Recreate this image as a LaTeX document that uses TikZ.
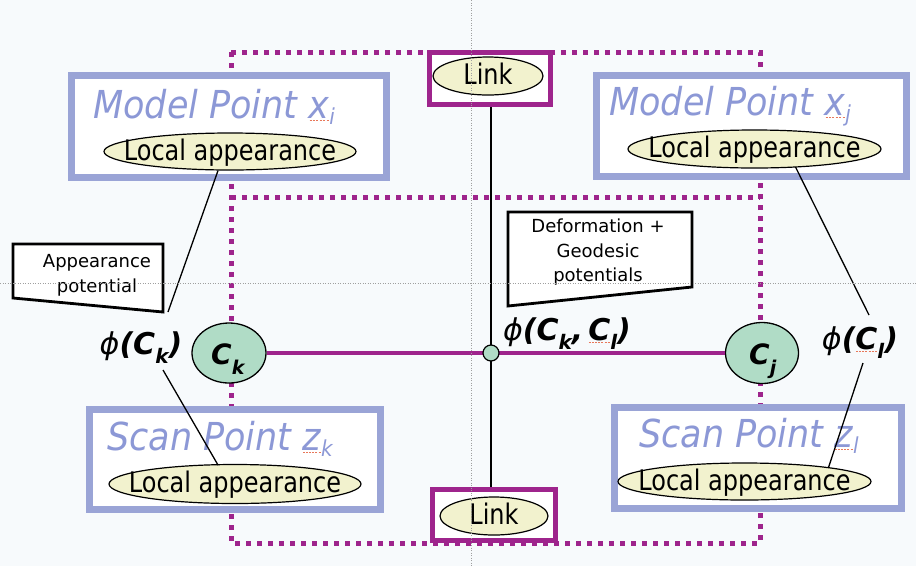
\documentclass[tikz,border=0pt]{standalone}
\usepackage{fontspec}
\setmainfont{DejaVu Sans}[ItalicFont={DejaVu Sans Oblique},BoldFont={DejaVu Sans Bold},BoldItalicFont={DejaVu Sans Bold Oblique}]
\usetikzlibrary{calc,shapes.geometric}

\definecolor{bgc}{RGB}{247,250,252}
\definecolor{boxblue}{RGB}{154,164,214}
\definecolor{titleblue}{RGB}{140,152,214}
\definecolor{magline}{RGB}{158,36,140}
\definecolor{apfill}{RGB}{242,242,206}
\definecolor{mint}{RGB}{176,220,198}
\definecolor{squigred}{RGB}{232,120,90}

% lowered small index: size, drop, text
\newcommand\subtxt[3]{\raisebox{-#2pt}{\fontsize{#1}{#1}\selectfont #3}}
% dashed reddish underline under a glyph
\newlength\sqw
\newcommand\squig[1]{\settowidth\sqw{#1}\rlap{\hbox to\sqw{\color{squigred}\xleaders\hbox to 3pt{\hss\vrule height -2pt depth 3pt width 2pt\hss}\hfill}}#1}
% label of no size, so the ellipse keeps its own dimensions
\newcommand\nosize[1]{\makebox[0pt]{\raisebox{-8.5pt}[0pt][0pt]{\scalebox{1}[1.18]{#1}}}}
% slightly taller lettering for box titles
\newcommand\tall[1]{\scalebox{1}[1.1]{#1}}

\tikzset{
  modelbox/.style={rectangle, draw=boxblue, line width=7pt, fill=white, inner sep=0pt},
  linkbox/.style={rectangle, draw=magline, line width=5pt, fill=white, inner sep=0pt},
  localap/.style={ellipse, draw=black, line width=1.2pt, fill=apfill, inner sep=0pt,
                  font=\fontsize{24}{24}\selectfont},
  cnode/.style={ellipse, draw=black, line width=1.3pt, fill=mint, inner sep=0pt},
  junction/.style={circle, draw=black, line width=1.2pt, fill=mint, inner sep=0pt, minimum size=16pt},
  titletext/.style={anchor=base west, inner sep=0pt, text=titleblue,
                    font=\fontsize{35}{35}\selectfont\itshape},
  phitext/.style={anchor=base, inner sep=0pt, font=\fontsize{30}{30}\selectfont\bfseries\itshape},
  ctext/.style={anchor=base west, inner sep=0pt, font=\fontsize{28}{28}\selectfont\bfseries\itshape},
  calltext/.style={align=center, inner sep=0pt, font=\fontsize{18}{24.5}\selectfont},
  callbox/.style={draw=black, line width=2.8pt, fill=white, line join=miter},
  conn/.style={draw=black, line width=1.3pt},
  linkline/.style={draw=black, line width=2.6pt},
  chain/.style={draw=magline, line width=4pt},
  dotmag/.style={draw=magline, line width=5pt, dash pattern=on 5pt off 6pt},
  guide/.style={draw=gray!75, line width=0.6pt, dash pattern=on 1pt off 1.5pt}
}

\begin{document}
\begin{tikzpicture}[x=1pt,y=-1pt]
\useasboundingbox (0,0) rectangle (916,566);
\fill[bgc] (0,0) rectangle (916,566);

% dotted frame with its middle rule
\draw[dotmag] (231,52) rectangle (760,543);
\draw[dotmag] (231,197) -- (760,197);

% model and scan point boxes
\node[modelbox, minimum width=315pt, minimum height=102pt] (mi) at (229,126.5) {};
\node[modelbox, minimum width=310pt, minimum height=101pt] (mj) at (751.5,126) {};
\node[modelbox, minimum width=291pt, minimum height=100pt] (sk) at (235,459.5) {};
\node[modelbox, minimum width=287pt, minimum height=101pt] (sl) at (758,458) {};

\node[titletext] (tmi) at (93,118) {\tall{Model Point \squig{x}\subtxt{20}{6}{i}}};
\node[titletext] (tmj) at (609,115) {\tall{Model Point \squig{x}\subtxt{20}{6}{j}}};
\node[titletext] (tsk) at (107,450) {\tall{Scan Point \squig{z}\subtxt{20}{6}{k}}};
\node[titletext] (tsl) at (639,447) {\tall{Scan Point \squig{z}\subtxt{20}{6}{l}}};

\node[localap, minimum width=252pt, minimum height=37pt] (lmi) at (230,151.5) {\nosize{Local appearance}};
\node[localap, minimum width=253pt, minimum height=38pt] (lmj) at (754.5,149) {\nosize{Local appearance}};
\node[localap, minimum width=252pt, minimum height=39pt] (lsk) at (235,484) {\nosize{Local appearance}};
\node[localap, minimum width=253pt, minimum height=37pt] (lsl) at (744.5,481.5) {\nosize{Local appearance}};

% link boxes
\node[linkbox, minimum width=121pt, minimum height=52pt] (ltop) at (490,78.5) {};
\node[linkbox, minimum width=123pt, minimum height=51pt] (lbot) at (494,515) {};
\node[localap, minimum width=110pt, minimum height=38pt] (lkt) at (488,76) {\nosize{Link}};
\node[localap, minimum width=108pt, minimum height=38pt] (lkb) at (494,516) {\nosize{Link}};

% clique nodes
\node[cnode, minimum width=74pt, minimum height=60pt] (ck) at (229,353) {};
\node[cnode, minimum width=73pt, minimum height=61pt] (cj) at (762,353) {};
\node[ctext] (tck) at (211,364) {C\subtxt{19}{10}{k}};
\node[ctext] (tcj) at (749,364) {C\subtxt{19}{10}{j}};

% potentials
\node[phitext] (phik) at (141,354) {{\mdseries ϕ}(C\subtxt{20}{9}{k})};
\node[phitext] (phikl) at (567,340) {{\mdseries ϕ}(C\subtxt{20}{9}{k},\,\squig{C}\subtxt{20}{9}{l})};
\node[phitext] (phil) at (860,349) {{\mdseries ϕ}(\squig{C}\subtxt{20}{9}{l})};

% callouts
\draw[callbox] (13,244) -- (163,244) -- (163,312) -- (13,298) -- cycle;
\node[calltext] (apt) at (97,275.5) {Appearance\\potential};
\draw[callbox] (508,212) -- (692,212) -- (692,287) -- (508,306) -- cycle;
\node[calltext] (dgt) at (598,252.5) {Deformation +\\Geodesic\\potentials};

% pairwise chain and link axis
\coordinate (jc) at (491,353);
\draw[chain] (ck) -- (cj);
\draw[linkline] (ltop.south -| jc) -- (lbot.north -| jc);
\node[junction] (jn) at (jc) {};

% unary potential connectors
\draw[conn] ($(lmi.south)+(-12,0)$) -- ($(phik.base)+(27,-42)$);
\draw[conn] ($(phik.base)+(22,16)$) -- ($(lsk)+(-17,-19)$);
\draw[conn] ($(lmj)+(41,18)$) -- ($(phil.base)+(9,-34)$);
\draw[conn] ($(phil.base)+(3,14)$) -- ($(lsl)+(84,-14)$);

% layout guides
\draw[guide] (471,0) -- (471,566);
\draw[guide] (0,283) -- (916,283);
\end{tikzpicture}
\end{document}
